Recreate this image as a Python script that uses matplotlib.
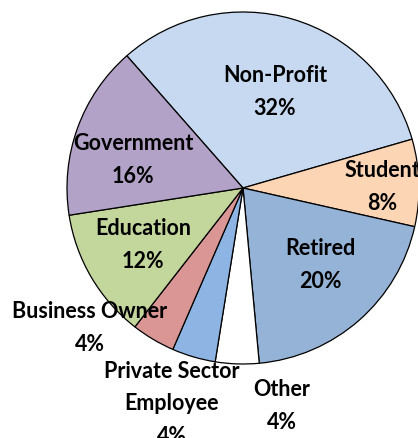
import matplotlib
matplotlib.use("Agg")
import matplotlib.pyplot as plt

categories = ["Non-Profit", "Student", "Retired", "Other",
              "Private Sector\nEmployee", "Business Owner", "Education", "Government"]
values = [32, 8, 20, 4, 4, 4, 12, 16]
colors = ["#C6D9F1", "#FCD5B5", "#95B3D7", "#FFFFFF",
          "#8DB4E2", "#D99694", "#C3D69B", "#B3A2C7"]

W, H = 418, 438
fig = plt.figure(figsize=(W / 100, H / 100), dpi=100)
ax = fig.add_axes([0, 0, 1, 1])
ax.set_xlim(0, W)
ax.set_ylim(0, H)
ax.set_aspect("equal")
ax.axis("off")

cx, cy, R = 243, H - 188, 176
ax.pie(values, colors=colors, startangle=131.3, counterclock=False,
       center=(cx, cy), radius=R, frame=True,
       wedgeprops=dict(edgecolor="black", linewidth=0.9))
ax.set_xlim(0, W)
ax.set_ylim(0, H)
ax.axis("off")

# label anchor positions (pixel coords from top-left), layout only
label_pos = [(275, 92), (382, 187), (320, 265), (282, 406),
             (172, 404), (90, 328), (143, 245), (133, 160)]
total = sum(values)
for name, v, (x, y) in zip(categories, values, label_pos):
    pct = f"{round(100 * v / total)}%"
    ax.text(x, H - y, f"{name}\n{pct}", ha="center", va="center",
            fontsize=15.5, fontweight="bold", family=["Lato", "DejaVu Sans"],
            linespacing=1.65, clip_on=False)

fig.savefig("out.png", dpi=100)
